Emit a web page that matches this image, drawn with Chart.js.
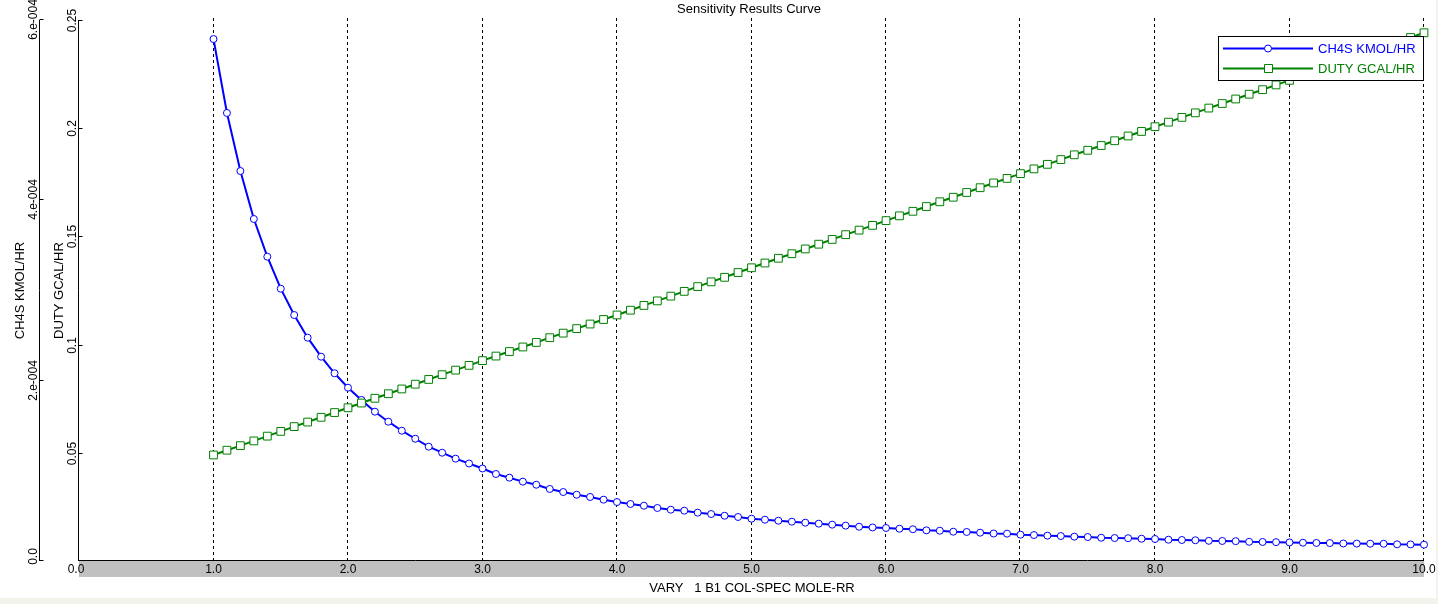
<!DOCTYPE html>
<html>
<head>
<meta charset="utf-8">
<title>Sensitivity Results Curve</title>
<script src="https://cdn.jsdelivr.net/npm/chart.js@4.4.1/dist/chart.umd.min.js"></script>
<style>
  html, body { margin: 0; padding: 0; background: #f4f3eb; }
  #wrap { width: 1436px; height: 598px; background: #ffffff; }
</style>
</head>
<body>
<div id="wrap"><canvas id="curveChart" width="1436" height="598"></canvas></div>
<script>
// VARY 1 B1 COL-SPEC MOLE-RR
var rrValues = [
  1.0, 1.1, 1.2, 1.3, 1.4, 1.5, 1.6, 1.7, 1.8, 1.9,
  2.0, 2.1, 2.2, 2.3, 2.4, 2.5, 2.6, 2.7, 2.8, 2.9,
  3.0, 3.1, 3.2, 3.3, 3.4, 3.5, 3.6, 3.7, 3.8, 3.9,
  4.0, 4.1, 4.2, 4.3, 4.4, 4.5, 4.6, 4.7, 4.8, 4.9,
  5.0, 5.1, 5.2, 5.3, 5.4, 5.5, 5.6, 5.7, 5.8, 5.9,
  6.0, 6.1, 6.2, 6.3, 6.4, 6.5, 6.6, 6.7, 6.8, 6.9,
  7.0, 7.1, 7.2, 7.3, 7.4, 7.5, 7.6, 7.7, 7.8, 7.9,
  8.0, 8.1, 8.2, 8.3, 8.4, 8.5, 8.6, 8.7, 8.8, 8.9,
  9.0, 9.1, 9.2, 9.3, 9.4, 9.5, 9.6, 9.7, 9.8, 9.9,
  10.0
];

// CH4S KMOL/HR
var ch4sValues = [
  5.789e-4, 4.969e-4, 4.325e-4, 3.793e-4, 3.375e-4, 3.020e-4, 2.728e-4, 2.477e-4, 2.266e-4, 2.082e-4,
  1.922e-4, 1.786e-4, 1.656e-4, 1.545e-4, 1.445e-4, 1.356e-4, 1.268e-4, 1.201e-4, 1.135e-4, 1.081e-4,
  1.026e-4, 0.965e-4, 0.924e-4, 0.880e-4, 0.846e-4, 0.799e-4, 0.765e-4, 0.735e-4, 0.710e-4, 0.680e-4,
  0.654e-4, 0.632e-4, 0.613e-4, 0.588e-4, 0.569e-4, 0.558e-4, 0.536e-4, 0.521e-4, 0.502e-4, 0.488e-4,
  0.469e-4, 0.458e-4, 0.447e-4, 0.436e-4, 0.425e-4, 0.414e-4, 0.403e-4, 0.392e-4, 0.380e-4, 0.372e-4,
  0.366e-4, 0.358e-4, 0.352e-4, 0.340e-4, 0.336e-4, 0.325e-4, 0.322e-4, 0.314e-4, 0.305e-4, 0.303e-4,
  0.292e-4, 0.288e-4, 0.281e-4, 0.277e-4, 0.270e-4, 0.266e-4, 0.258e-4, 0.255e-4, 0.253e-4, 0.247e-4,
  0.244e-4, 0.236e-4, 0.233e-4, 0.230e-4, 0.224e-4, 0.222e-4, 0.220e-4, 0.213e-4, 0.211e-4, 0.209e-4,
  0.206e-4, 0.203e-4, 0.200e-4, 0.199e-4, 0.194e-4, 0.193e-4, 0.192e-4, 0.191e-4, 0.185e-4, 0.184e-4,
  0.181e-4
];

// DUTY GCAL/HR
var dutyValues = [
  0.0490, 0.0512, 0.0533, 0.0555, 0.0577, 0.0599, 0.0621, 0.0642, 0.0664, 0.0686,
  0.0708, 0.0730, 0.0752, 0.0773, 0.0795, 0.0817, 0.0839, 0.0861, 0.0882, 0.0904,
  0.0926, 0.0947, 0.0968, 0.0989, 0.1010, 0.1032, 0.1053, 0.1074, 0.1095, 0.1116,
  0.1137, 0.1159, 0.1181, 0.1202, 0.1224, 0.1246, 0.1268, 0.1290, 0.1311, 0.1333,
  0.1355, 0.1377, 0.1399, 0.1420, 0.1442, 0.1464, 0.1486, 0.1508, 0.1529, 0.1551,
  0.1573, 0.1595, 0.1616, 0.1638, 0.1660, 0.1681, 0.1703, 0.1725, 0.1747, 0.1768,
  0.1790, 0.1812, 0.1833, 0.1855, 0.1877, 0.1898, 0.1920, 0.1942, 0.1964, 0.1985,
  0.2007, 0.2028, 0.2050, 0.2071, 0.2093, 0.2114, 0.2135, 0.2157, 0.2178, 0.2200,
  0.2221, 0.2243, 0.2265, 0.2287, 0.2309, 0.2331, 0.2353, 0.2375, 0.2397, 0.2419,
  0.2441
];

var xTicks = [0, 1, 2, 3, 4, 5, 6, 7, 8, 9, 10];
var xTickLabels = ['0.0', '1.0', '2.0', '3.0', '4.0', '5.0', '6.0', '7.0', '8.0', '9.0', '10.0'];
var ch4sTicks = [0, 2e-4, 4e-4, 6e-4];
var ch4sTickLabels = ['0.0', '2.e-004', '4.e-004', '6.e-004'];
var dutyTicks = [0.05, 0.1, 0.15, 0.2, 0.25];
var dutyTickLabels = ['0.05', '0.1', '0.15', '0.2', '0.25'];

var chartTitle = 'Sensitivity Results Curve';
var xTitle = 'VARY   1 B1 COL-SPEC MOLE-RR';
var ch4sTitle = 'CH4S KMOL/HR';
var dutyTitle = 'DUTY GCAL/HR';

var FONT = '"Liberation Sans", Arial, sans-serif';

function toPoints(ys) {
  var pts = [];
  for (var i = 0; i < rrValues.length; i++) {
    pts.push({ x: rrValues[i], y: ys[i] });
  }
  return pts;
}

function vText(ctx, text, x, y, align) {
  ctx.save();
  ctx.translate(x, y);
  ctx.rotate(-Math.PI / 2);
  ctx.textAlign = align || 'center';
  ctx.textBaseline = 'alphabetic';
  ctx.fillText(text, 0, 0);
  ctx.restore();
}

// axes, grid and labels drawn by hand, placed with the chart's own scales
var frame = {
  id: 'frame',
  beforeDatasetsDraw: function (chart) {
    var ctx = chart.ctx;
    var area = chart.chartArea;
    var xs = chart.scales.x;
    var yc = chart.scales.yCh4s;
    var yd = chart.scales.yDuty;
    var i, px, py;

    ctx.save();

    // grey strip under the x axis
    ctx.fillStyle = '#c0c0c0';
    ctx.fillRect(area.left, area.bottom, area.right - area.left, 16);

    // dashed vertical grid
    ctx.strokeStyle = '#000000';
    ctx.lineWidth = 1;
    ctx.setLineDash([3, 3]);
    for (i = 1; i < xTicks.length; i++) {
      px = Math.round(xs.getPixelForValue(xTicks[i])) - 0.5;
      ctx.beginPath();
      ctx.moveTo(px, area.top - 2);
      ctx.lineTo(px, area.bottom);
      ctx.stroke();
    }
    ctx.setLineDash([]);

    // x axis line
    ctx.beginPath();
    ctx.moveTo(area.left, area.bottom - 0.5);
    ctx.lineTo(area.right, area.bottom - 0.5);
    ctx.stroke();

    // x tick labels
    ctx.fillStyle = '#000000';
    ctx.font = '12px ' + FONT;
    ctx.textAlign = 'center';
    ctx.textBaseline = 'alphabetic';
    for (i = 0; i < xTicks.length; i++) {
      px = xs.getPixelForValue(xTicks[i]);
      if (i === 0) px -= 3;
      ctx.fillText(xTickLabels[i], px, 573);
    }

    // DUTY axis (inner)
    var dx = area.left - 0.5;
    ctx.beginPath();
    ctx.moveTo(dx, area.top);
    ctx.lineTo(dx, area.bottom);
    ctx.stroke();
    for (i = 0; i < dutyTicks.length; i++) {
      py = Math.round(yd.getPixelForValue(dutyTicks[i])) + 0.5;
      ctx.beginPath();
      ctx.moveTo(dx, py);
      ctx.lineTo(dx + 4, py);
      ctx.stroke();
      vText(ctx, dutyTickLabels[i], 76, py);
    }

    // CH4S axis (outer)
    var cx = 39.5;
    ctx.beginPath();
    ctx.moveTo(cx, area.top);
    ctx.lineTo(cx, area.bottom);
    ctx.stroke();
    for (i = 0; i < ch4sTicks.length; i++) {
      py = Math.round(yc.getPixelForValue(ch4sTicks[i])) - 0.5;
      ctx.beginPath();
      ctx.moveTo(cx, py);
      ctx.lineTo(cx + 4, py);
      ctx.stroke();
      var ly = py;
      if (i === 0) ly = py - 4;
      vText(ctx, ch4sTickLabels[i], 37, ly);
    }

    // titles
    ctx.font = '13px ' + FONT;
    var midY = (area.top + area.bottom) / 2;
    vText(ctx, ch4sTitle, 24, midY);
    vText(ctx, dutyTitle, 63, midY);
    ctx.textAlign = 'center';
    ctx.fillText(chartTitle, 749, 13);
    ctx.fillText(xTitle, 752, 592);

    ctx.restore();
  },
  afterDatasetsDraw: function (chart) {
    var ctx = chart.ctx;
    var sets = chart.data.datasets;
    ctx.save();
    // legend box
    ctx.fillStyle = '#ffffff';
    ctx.fillRect(1218, 36, 205, 44);
    ctx.strokeStyle = '#000000';
    ctx.lineWidth = 1;
    ctx.strokeRect(1218.5, 36.5, 205, 44);

    var rows = [48, 68];
    ctx.font = '13px ' + FONT;
    ctx.textAlign = 'left';
    ctx.textBaseline = 'alphabetic';
    for (var i = 0; i < sets.length; i++) {
      var ds = sets[i];
      var y = rows[i] + 0.5;
      ctx.strokeStyle = ds.borderColor;
      ctx.lineWidth = 2;
      ctx.beginPath();
      ctx.moveTo(1223, y);
      ctx.lineTo(1313, y);
      ctx.stroke();
      ctx.fillStyle = '#ffffff';
      ctx.lineWidth = 1;
      ctx.beginPath();
      if (ds.pointStyle === 'rect') {
        ctx.rect(1264.5, y - 4, 8, 8);
      } else {
        ctx.arc(1268, y, 3.5, 0, Math.PI * 2);
      }
      ctx.fill();
      ctx.stroke();
      ctx.fillStyle = ds.borderColor;
      ctx.fillText(ds.label, 1318, rows[i] + 5);
    }
    ctx.restore();
  }
};

var ctx = document.getElementById('curveChart').getContext('2d');
var curveChart = new Chart(ctx, {
  type: 'line',
  data: {
    datasets: [{
      label: 'CH4S KMOL/HR',
      data: toPoints(ch4sValues),
      yAxisID: 'yCh4s',
      borderColor: '#0000ff',
      borderWidth: 2,
      pointStyle: 'circle',
      pointRadius: 3.5,
      pointBorderWidth: 1,
      pointBackgroundColor: '#ffffff',
      pointBorderColor: '#0000ff',
      tension: 0,
      fill: false,
      clip: false,
      order: 1
    }, {
      label: 'DUTY GCAL/HR',
      data: toPoints(dutyValues),
      yAxisID: 'yDuty',
      borderColor: '#008000',
      borderWidth: 2,
      pointStyle: 'rect',
      pointRadius: 5.5,
      pointBorderWidth: 1,
      pointBackgroundColor: '#ffffff',
      pointBorderColor: '#008000',
      tension: 0,
      fill: false,
      clip: false,
      order: 0
    }]
  },
  options: {
    responsive: false,
    animation: false,
    devicePixelRatio: 1,
    layout: { padding: { left: 79, right: 12, top: 20, bottom: 37 } },
    plugins: {
      legend: { display: false },
      title: { display: false },
      tooltip: { enabled: false }
    },
    scales: {
      x: { type: 'linear', min: 0, max: 10, display: false },
      yCh4s: { type: 'linear', position: 'left', min: 0, max: 6e-4, display: false },
      yDuty: { type: 'linear', position: 'left', min: 0, max: 0.25, display: false }
    }
  },
  plugins: [frame]
});
</script>
</body>
</html>
